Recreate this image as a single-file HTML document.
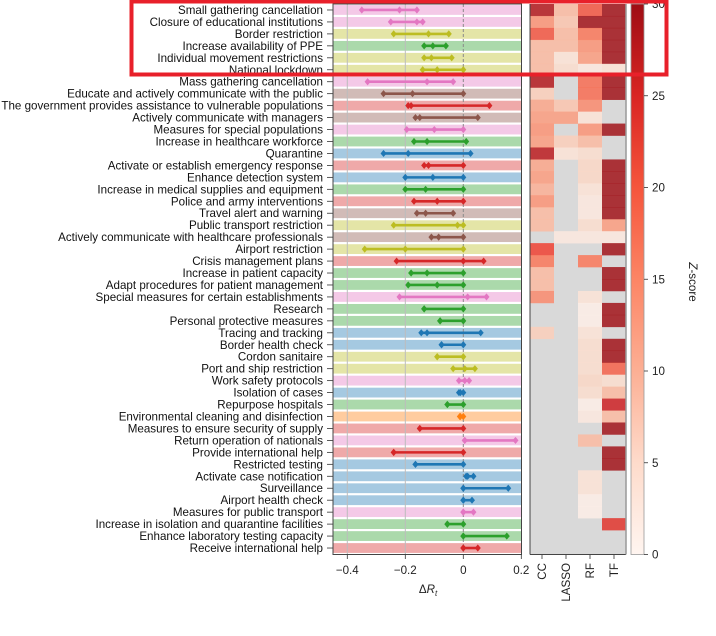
<!DOCTYPE html>
<html><head><meta charset="utf-8"><style>
html,body{margin:0;padding:0;background:#fff;width:716px;height:636px;overflow:hidden}
svg{display:block;font-family:"Liberation Sans",sans-serif}
</style></head><body>
<svg id="chart" width="716" height="636" viewBox="0 0 716 636"></svg>
<script>
const labels=["Small gathering cancellation","Closure of educational institutions","Border restriction","Increase availability of PPE","Individual movement restrictions","National lockdown","Mass gathering cancellation","Educate and actively communicate with the public","The government provides assistance to vulnerable populations","Actively communicate with managers","Measures for special populations","Increase in healthcare workforce","Quarantine","Activate or establish emergency response","Enhance detection system","Increase in medical supplies and equipment","Police and army interventions","Travel alert and warning","Public transport restriction","Actively communicate with healthcare professionals","Airport restriction","Crisis management plans","Increase in patient capacity","Adapt procedures for patient management","Special measures for certain establishments","Research","Personal protective measures","Tracing and tracking","Border health check","Cordon sanitaire","Port and ship restriction","Work safety protocols","Isolation of cases","Repurpose hospitals","Environmental cleaning and disinfection","Measures to ensure security of supply","Return operation of nationals","Provide international help","Restricted testing","Activate case notification","Surveillance","Airport health check","Measures for public transport","Increase in isolation and quarantine facilities","Enhance laboratory testing capacity","Receive international help"];
const groups=["pink","pink","olive","green","olive","olive","pink","brown","red","brown","pink","green","blue","red","blue","green","red","brown","olive","brown","olive","red","green","green","pink","green","green","blue","blue","olive","olive","pink","blue","green","orange","red","pink","red","blue","blue","blue","blue","pink","green","green","red"];
const lo=[-0.35,-0.25,-0.24,-0.135,-0.135,-0.14,-0.33,-0.275,-0.19,-0.165,-0.195,-0.17,-0.275,-0.135,-0.2,-0.2,-0.17,-0.16,-0.24,-0.11,-0.34,-0.23,-0.18,-0.19,-0.22,-0.135,-0.08,-0.145,-0.075,-0.09,-0.035,-0.015,-0.015,-0.055,-0.012,-0.15,0.005,-0.24,-0.165,0.01,0,0,0,-0.055,0,0];
const mid=[-0.22,-0.16,-0.12,-0.105,-0.11,-0.09,-0.125,-0.175,-0.18,-0.15,-0.1,-0.125,-0.19,-0.12,-0.105,-0.13,-0.09,-0.13,-0.02,-0.085,-0.2,0,-0.125,-0.09,0.015,-0.135,-0.08,-0.125,-0.075,-0.09,0.005,0.005,-0.01,-0.055,-0.01,-0.15,0.005,-0.24,-0.165,0.015,0,0,0,-0.055,0,0];
const hi=[-0.16,-0.14,-0.05,-0.06,-0.04,0,-0.035,0,0.09,0.05,0,0.01,0.025,0,0,0,0,-0.035,0,0,0,0.07,0,0,0.08,0,0,0.06,0,0,0.04,0.02,0,0,0,0,0.18,0,0,0.035,0.155,0.03,0.035,0,0.15,0.05];
const N=null;
const zCC=[28,12,18,8,8,8,28,6,10,11,12,11,27,10,11,9,12,8,8,N,20,15,8,8,13,N,N,6,N,N,N,N,N,N,N,N,N,N,N,N,N,N,N,N,N,N];
const zLASSO=[8,7,8,8,3,4,N,N,7,11,N,6,3,N,N,N,N,N,N,2,N,N,N,N,N,N,N,N,N,N,N,N,N,N,N,N,N,N,N,N,N,N,N,N,N,N];
const zRF=[18,30,15,12,11,2,16,16,13,3,12,8,4,5,5,3,2,2,4,2,N,15,N,N,3,1,1,3,4,4,4,5,4,1,2,N,8,N,N,3,3,1,1,N,N,N];
const zTF=[30,30,30,30,30,3,30,30,N,N,30,N,N,30,30,30,30,30,11,2,30,N,30,30,N,30,30,N,30,30,17,4,8,25,8,30,N,30,30,N,N,N,N,22,N,N];
const methods=["CC","LASSO","RF","TF"];
const xTicks=[-0.4,-0.2,0,0.2];
const xTickLabels=["\u22120.4","\u22120.2","0","0.2"];
const cbTicks=[0,5,10,15,20,25,30];

const NS="http://www.w3.org/2000/svg";
const svg=document.getElementById("chart");
function mk(tag,attrs,parent){const e=document.createElementNS(NS,tag);for(const k in attrs)e.setAttribute(k,attrs[k]);(parent||svg).appendChild(e);return e;}
const lineC={pink:"#e377c2",olive:"#bcbd22",green:"#2ca02c",brown:"#8c564b",red:"#d62728",blue:"#1f77b4",orange:"#ff7f0e"};
const bandC={pink:"#f4c9e7",olive:"#e4e5a7",green:"#abd9ab",brown:"#d1bbb7",red:"#efa9a9",blue:"#a5c9e1",orange:"#ffcc9f"};
const topY=4,rowH=(554-4)/46;
const x0=333,x1=521.5;
const xs=v=>463.3+v*290;
const ys=i=>topY+(i+0.5)*rowH;

labels.forEach((l,i)=>{
  const r=mk("rect",{x:x0,y:ys(i)-4.9,width:x1-x0,height:9.8,fill:bandC[groups[i]]});
  
  
});
xTicks.forEach((t,k)=>{
  if(t===0.2)return;
  const g=mk("line",{x1:xs(t),x2:xs(t),y1:topY,y2:554.5,stroke:t===0?"#8a8a8a":"#bdbdbd","stroke-width":1,"stroke-dasharray":t===0?"3,2":"none"});
  
  
});
labels.forEach((l,i)=>{
  const c=lineC[groups[i]],y=ys(i);
  const ln=mk("line",{x1:xs(lo[i]),x2:xs(hi[i]),y1:y,y2:y,stroke:c,"stroke-width":2.6});
  
  
  [lo[i],mid[i],hi[i]].forEach(v=>{
    const x=xs(v);
    const d=mk("polygon",{points:`${x},${y-3.6} ${x+3},${y} ${x},${y+3.6} ${x-3},${y}`,fill:c});
    
    
  });
  const t=mk("text",{x:323,y:y+4,"text-anchor":"end","font-size":"11.6",fill:"#111"});
  t.textContent=l;
  
  
  const tk=mk("line",{x1:327,x2:333,y1:y,y2:y,stroke:"#333","stroke-width":0.8});
  
  
});
const fr=mk("rect",{x:x0,y:topY,width:x1-x0,height:554.5-topY,fill:"none",stroke:"#444","stroke-width":1});


xTicks.forEach((t,k)=>{
  const tk=mk("line",{x1:xs(t),x2:xs(t),y1:554.5,y2:559,stroke:"#333","stroke-width":0.8});
  
  
  const tl=mk("text",{x:xs(t),y:574,"text-anchor":"middle","font-size":"11.6",fill:"#222"});
  tl.textContent=xTickLabels[k];
  
  
});
const xt=mk("text",{x:428,y:593,"text-anchor":"middle","font-size":"11.6",fill:"#222"});
xt.innerHTML='\u0394<tspan font-style="italic">R</tspan><tspan font-style="italic" font-size="8" dy="3">t</tspan>';



const stops=[[0,[255,245,240]],[5,[253,216,198]],[10,[252,165,135]],[15,[251,116,86]],[20,[240,60,45]],[25,[205,27,30]],[30,[160,14,20]]];
function cmap(v){v=Math.max(0,Math.min(30,v));for(let k=1;k<stops.length;k++){if(v<=stops[k][0]){const a=stops[k-1],b=stops[k],f=(v-a[0])/(b[0]-a[0]);return "rgb("+a[1].map((c,j)=>Math.round(c+(b[1][j]-c)*f)).join(",")+")";}}return "rgb(160,14,20)";}
const hx0=530,cw=24;
const zs=[zCC,zLASSO,zRF,zTF];
const hb=mk("rect",{x:hx0,y:topY,width:cw*4,height:550.5,fill:"#d9d9d9"});


zs.forEach((arr,m)=>{
  arr.forEach((v,i)=>{
    if(v===null)return;
    const r=mk("rect",{x:hx0+m*cw,y:topY+i*rowH,width:cw,height:rowH+0.3,fill:cmap(v),"fill-opacity":0.82});
    
    
  });
  const tk=mk("line",{x1:hx0+m*cw+12,x2:hx0+m*cw+12,y1:554.5,y2:559,stroke:"#333","stroke-width":0.8});
  
  
  const tl=mk("text",{x:0,y:0,"text-anchor":"end","font-size":"11.6",fill:"#222",transform:`translate(${hx0+m*cw+16},563) rotate(-90)`});
  tl.textContent=methods[m];
  
  
});
const hl=mk("line",{x1:hx0,x2:hx0,y1:topY,y2:554.5,stroke:"#444","stroke-width":1});


const hbl=mk("line",{x1:hx0,x2:hx0+96,y1:554.5,y2:554.5,stroke:"#444","stroke-width":1});


const hr=mk("line",{x1:hx0+96,x2:hx0+96,y1:topY,y2:554.5,stroke:"#999","stroke-width":1.5});



const defs=mk("defs",{});
const lg=mk("linearGradient",{id:"cbg",x1:0,y1:1,x2:0,y2:0},defs);
const cbStops=[[0,"#fff5f0"],[5,"#fedbcb"],[10,"#fcaf94"],[15,"#fc8565"],[20,"#f5553c"],[25,"#d92523"],[30,"#9e0d14"]];
cbStops.forEach(s=>{mk("stop",{offset:s[0]/30,"stop-color":s[1]},lg);});
const cbY=v=>554.5-v*(550.5/30);
const cb=mk("rect",{x:631,y:topY,width:13,height:550.5,fill:"url(#cbg)",stroke:"#999","stroke-width":0.8});


cbTicks.forEach(t=>{
  const tk=mk("line",{x1:644,x2:648,y1:cbY(t),y2:cbY(t),stroke:"#333","stroke-width":0.8});
  
  
  const tl=mk("text",{x:652,y:cbY(t)+4,"font-size":"11.6",fill:"#222"});
  tl.textContent=String(t);
  
  
});
const zt=mk("text",{x:0,y:0,"text-anchor":"middle","font-size":"11.6",fill:"#222",transform:"translate(689,282) rotate(90)"});
zt.innerHTML='<tspan font-style="italic">Z</tspan>-score';



const hbx=mk("rect",{x:131.5,y:1.5,width:535,height:73,fill:"none",stroke:"#e8202a","stroke-width":4});


</script>
</body></html>
